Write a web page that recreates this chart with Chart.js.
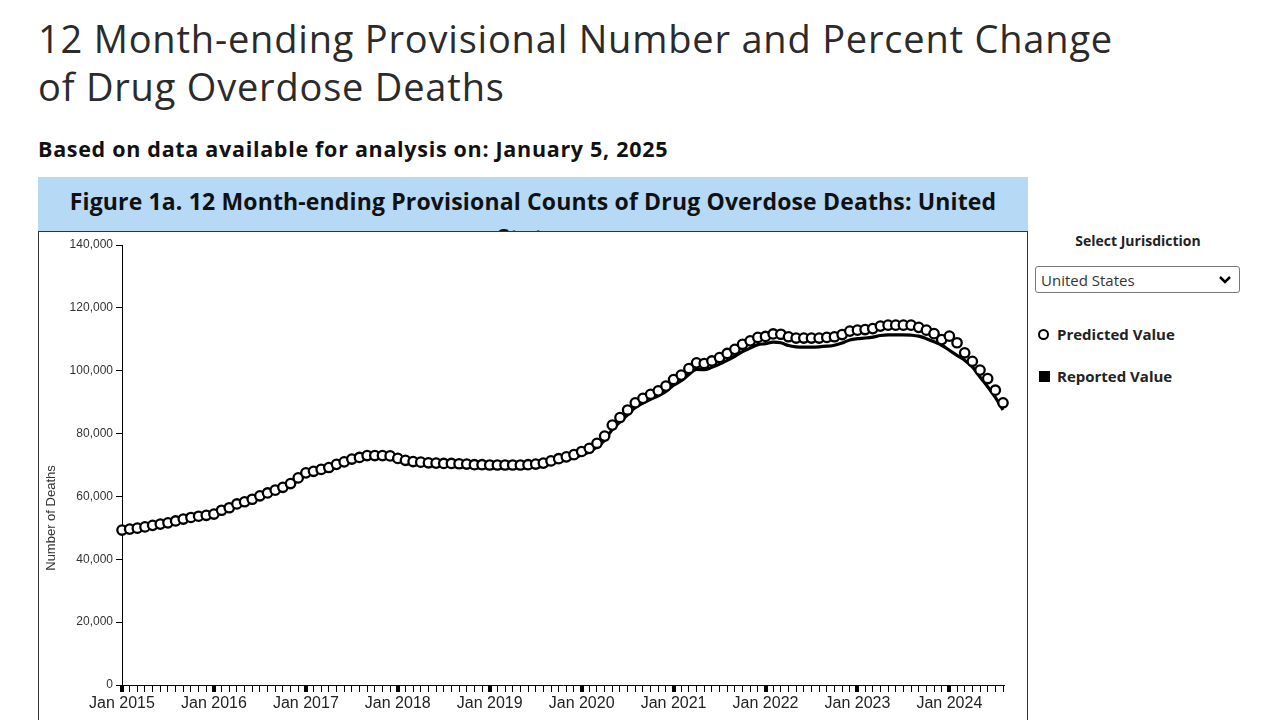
<!DOCTYPE html>
<html>
<head>
<meta charset="utf-8">
<title>12 Month-ending Provisional Counts of Drug Overdose Deaths</title>
<script src="https://cdn.jsdelivr.net/npm/chart.js@4.4.1/dist/chart.umd.min.js"></script>
<style>
  body { margin: 0; width: 1280px; height: 720px; overflow: hidden; background: #fff; }
  #title { position: absolute; left: 38px; top: 14px; margin: 0; font-family: "Open Sans", sans-serif; font-weight: 400; font-size: 38px; letter-spacing: 0.8px; line-height: 48px; color: #2b2b2b; }
  #subtitle { position: absolute; left: 38px; top: 134px; margin: 0; font-family: "Open Sans", sans-serif; font-weight: 700; font-size: 21.5px; letter-spacing: 0.7px; color: #111; }
  #figHead { position: absolute; left: 38px; top: 177px; width: 990px; height: 54px; background: #b6d9f5; overflow: hidden; text-align: center; font-family: "Open Sans", sans-serif; font-weight: 700; font-size: 23px; letter-spacing: 0.15px; line-height: 36px; padding-top: 6px; box-sizing: border-box; color: #111; }
  #chartBox { position: absolute; left: 38px; top: 231px; width: 990px; height: 520px; border: 1px solid #333; background: #fff; box-sizing: border-box; }
  #side { position: absolute; left: 1035px; top: 231px; width: 206px; font-family: "Open Sans", sans-serif; }
  #side .lbl { text-align: center; font-weight: 700; font-size: 14px; color: #222; }
  #jur { margin-top: 16px; width: 205px; height: 27px; border: 1px solid #777; border-radius: 3px; font-family: "Open Sans", sans-serif; font-size: 15px; color: #333; padding: 0 0 0 5px; appearance: none; -webkit-appearance: none; background: #fff url("data:image/svg+xml;utf8,<svg xmlns='http://www.w3.org/2000/svg' width='12' height='8'><path d='M1 1 L6 6 L11 1' fill='none' stroke='black' stroke-width='2.5'/></svg>") no-repeat right 8px center; }
  #legend { margin-top: 31px; }
  #legend .item { display: flex; align-items: center; height: 20px; margin-bottom: 22px; font-weight: 700; font-size: 15px; color: #222; }
  #legend .circle { width: 7px; height: 7px; border: 2.5px solid #000; border-radius: 50%; margin: 0 8px 0 3px; }
  #legend .square { width: 11px; height: 11px; background: #000; margin: 0 7px 0 4px; }
</style>
</head>
<body>
<h1 id="title">12 Month-ending Provisional Number and Percent Change<br>of Drug Overdose Deaths</h1>
<p id="subtitle">Based on data available for analysis on: January 5, 2025</p>
<div id="figHead">Figure 1a. 12 Month-ending Provisional Counts of Drug Overdose Deaths: United<br>States</div>
<div id="chartBox"><canvas id="overdoseChart" width="988" height="500"></canvas></div>
<div id="side">
  <div class="lbl">Select Jurisdiction</div>
  <select id="jur"><option>United States</option></select>
  <div id="legend"></div>
</div>
<script>
// Months covered: Jan 2015 through Aug 2024
const years = [2015, 2016, 2017, 2018, 2019, 2020, 2021, 2022, 2023, 2024];
const monthNames = ["Jan", "Feb", "Mar", "Apr", "May", "Jun", "Jul", "Aug", "Sep", "Oct", "Nov", "Dec"];
const lastMonthCount = 8; // data in 2024 ends in August

// 12 month-ending predicted counts (circles)
const predicted = [
  49300, 49600, 49900, 50300, 50800, 51200, 51600, 52200, 52800, 53300, 53700, 54000,
  54400, 55600, 56400, 57600, 58300, 59100, 60200, 61100, 62000, 62900, 64100, 65900,
  67500, 68000, 68600, 69200, 70200, 71000, 71900, 72400, 73000, 73000, 73000, 72900,
  72100, 71500, 71100, 70900, 70700, 70600, 70500, 70500, 70400, 70300, 70100, 70100,
  70000, 70000, 70000, 70000, 70000, 70100, 70300, 70600, 71300, 72000, 72600, 73300,
  74300, 75300, 76900, 79200, 82700, 85100, 87500, 89800, 91200, 92500, 93600, 95100,
  97200, 98600, 100700, 102500, 102300, 103100, 104200, 105500, 106800, 108400, 109500, 110600,
  110900, 111700, 111600, 110800, 110400, 110400, 110400, 110400, 110600, 110800, 111500, 112600,
  112900, 113100, 113400, 114200, 114500, 114500, 114500, 114500, 113800, 112900, 111800, 109900,
  111000, 108900, 105700, 103000, 100200, 97500, 93800, 89800
];

// 12 month-ending reported counts (line)
const reported = [
  48600, 48900, 49200, 49600, 50100, 50500, 50900, 51500, 52100, 52600, 53000, 53300,
  53700, 54900, 55700, 56900, 57600, 58400, 59500, 60400, 61300, 62200, 63400, 65200,
  66700, 67200, 67800, 68400, 69400, 70200, 71100, 71600, 72100, 72100, 72100, 72000,
  71200, 70600, 70200, 70000, 69800, 69700, 69600, 69500, 69400, 69300, 69100, 69100,
  69000, 69000, 69000, 69000, 69000, 69100, 69300, 69600, 70300, 71000, 71600, 72300,
  73200, 74200, 75700, 77900, 81300, 83700, 86000, 88300, 89700, 90900, 92000, 93400,
  95400, 96800, 98800, 100400, 100300, 101100, 102100, 103300, 104600, 106100, 107200, 108300,
  108600, 109100, 108900, 108000, 107600, 107500, 107500, 107600, 107800, 108100, 108800, 109800,
  110200, 110400, 110700, 111200, 111400, 111400, 111400, 111300, 111000, 110200, 109200, 108100,
  106500, 104900, 103300, 101200, 98000, 94900, 91500, 87500
];

const yTicks = [0, 20000, 40000, 60000, 80000, 100000, 120000, 140000];

// Build month labels like "Jan 2015"
const labels = [];
years.forEach(function (yr, yi) {
  const n = yi === years.length - 1 ? lastMonthCount : 12;
  for (let m = 0; m < n; m++) labels.push(monthNames[m] + " " + yr);
});

// Rotated y-axis title, placed low along the axis like the original
const yTitlePlugin = {
  id: "yTitle",
  afterDraw(chart) {
    const ctx = chart.ctx;
    const area = chart.chartArea;
    ctx.save();
    ctx.translate(12, area.bottom - 167);
    ctx.rotate(-Math.PI / 2);
    ctx.font = "13px 'Liberation Sans', Arial, sans-serif";
    ctx.fillStyle = "#333";
    ctx.textAlign = "center";
    ctx.textBaseline = "middle";
    ctx.fillText("Number of Deaths", 0, 0);
    ctx.restore();
  },
};

const ctx = document.getElementById("overdoseChart").getContext("2d");
const chart = new Chart(ctx, {
  type: "line",
  data: {
    labels: labels,
    datasets: [
      {
        label: "Predicted Value",
        data: predicted,
        showLine: false,
        pointRadius: 4.7,
        pointBorderWidth: 2.3,
        pointBackgroundColor: "#fff",
        pointBorderColor: "#000",
        order: 0,
      },
      {
        label: "Reported Value",
        data: reported,
        borderColor: "#000",
        borderWidth: 3.2,
        pointRadius: 0,
        cubicInterpolationMode: "monotone",
        fill: false,
        order: 1,
      },
    ],
  },
  options: {
    responsive: false,
    animation: false,
    layout: { padding: { top: 13, right: 24, left: 0, bottom: 0 } },
    plugins: { legend: { display: false }, tooltip: { enabled: false } },
    scales: {
      x: {
        type: "category",
        offset: false,
        afterFit: function (scale) { scale.height = 47; },
        border: { display: true, color: "#000", width: 1 },
        grid: {
          drawOnChartArea: false,
          drawTicks: true,
          tickLength: 7,
          color: "#000",
          lineWidth: function (c) { return labels[c.index] && labels[c.index].startsWith("Jan") ? 4 : 1; },
        },
        ticks: {
          autoSkip: false,
          maxRotation: 0,
          minRotation: 0,
          padding: 2,
          color: "#222",
          font: { family: "'Liberation Sans', Arial, sans-serif", size: 16 },
          callback: function (val, idx) { return labels[idx].startsWith("Jan") ? labels[idx] : ""; },
        },
      },
      y: {
        min: 0,
        max: 140000,
        afterFit: function (scale) { scale.width = 83; },
        afterBuildTicks: function (scale) { scale.ticks = yTicks.map(function (v) { return { value: v }; }); },
        border: { display: true, color: "#000", width: 1 },
        grid: { drawOnChartArea: false, drawTicks: true, tickLength: 6, color: "#000", lineWidth: 1 },
        ticks: {
          padding: 3,
          color: "#333",
          font: { family: "'Liberation Sans', Arial, sans-serif", size: 12 },
          callback: function (v) { return v.toLocaleString("en-US"); },
        },
      },
    },
  },
  plugins: [yTitlePlugin],
});

// HTML legend from the chart's datasets
const legendEl = document.getElementById("legend");
chart.data.datasets.forEach(function (ds, i) {
  const item = document.createElement("div");
  item.className = "item";
  const icon = document.createElement("span");
  icon.className = i === 0 ? "circle" : "square";
  item.appendChild(icon);
  item.appendChild(document.createTextNode(ds.label));
  legendEl.appendChild(item);
});
</script>
</body>
</html>
